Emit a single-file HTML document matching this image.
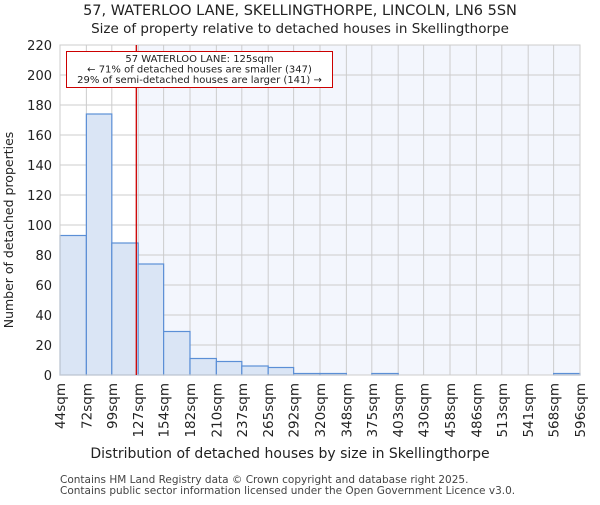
<!DOCTYPE html>
<html><head><meta charset="utf-8"><style>body{margin:0;background:#fff}svg{font-family:"DejaVu Sans","Liberation Sans",sans-serif}</style></head>
<body>
<svg id="chart" width="600" height="500" xmlns="http://www.w3.org/2000/svg">
<text x="300" y="15" text-anchor="middle" font-size="14.5" fill="#222">57, WATERLOO LANE, SKELLINGTHORPE, LINCOLN, LN6 5SN</text>
<text x="300" y="33" text-anchor="middle" font-size="13.5" fill="#222">Size of property relative to detached houses in Skellingthorpe</text>
<g id="plot"></g>
<text x="290" y="458" text-anchor="middle" font-size="14" fill="#222">Distribution of detached houses by size in Skellingthorpe</text>
<text transform="translate(13,230) rotate(-90)" text-anchor="middle" font-size="12.5" fill="#222">Number of detached properties</text>
<text x="60" y="483" font-size="10.5" fill="#444">Contains HM Land Registry data © Crown copyright and database right 2025.</text>
<text x="60" y="494" font-size="10.5" fill="#444">Contains public sector information licensed under the Open Government Licence v3.0.</text>
</svg>
<script>
const binEdges=[44,72,99,127,154,182,210,237,265,292,320,348,375,403,430,458,486,513,541,568,596];
const counts=[93,174,88,74,29,11,9,6,5,1,1,0,1,0,0,0,0,0,0,1];
const yTicks=[0,20,40,60,80,100,120,140,160,180,200,220];
const propertySize=125;
const NS="http://www.w3.org/2000/svg";
const L=60,R=580,T=45,B=375,xmin=44,xmax=596,ymax=220;
const xs=v=>L+(v-xmin)/(xmax-xmin)*(R-L);
const ys=v=>B-v/ymax*(B-T);
const g=document.getElementById('plot');
function mk(t,a,p){const e=document.createElementNS(NS,t);for(const k in a)e.setAttribute(k,a[k]);(p||g).appendChild(e);return e;}
const px=xs(propertySize);
let bg=mk('rect',{x:L,y:T,width:R-L,height:B-T,fill:'#ffffff'});


let bg2=mk('rect',{x:px,y:T,width:R-px,height:B-T,fill:'#f3f6fd'});


yTicks.forEach(v=>{
 let l=mk('line',{x1:L,x2:R,y1:ys(v),y2:ys(v),stroke:'#cccccc','stroke-width':1});
 
 
 let t=mk('text',{x:L-8,y:ys(v)+5,'text-anchor':'end','font-size':13,fill:'#222'});
 t.textContent=v;
 
 
});
binEdges.forEach(v=>{
 let l=mk('line',{x1:xs(v),x2:xs(v),y1:T,y2:B,stroke:'#cccccc','stroke-width':1});
 
 
 let t=mk('text',{transform:`translate(${xs(v)+5},${B+8}) rotate(-90)`,'text-anchor':'end','font-size':13.5,fill:'#222'});
 t.textContent=v+'sqm';
 
 
});
counts.forEach((c,i)=>{
 if(c<=0)return;
 let r=mk('rect',{x:xs(binEdges[i]),y:ys(c),width:xs(binEdges[i+1])-xs(binEdges[i]),height:B-ys(c),fill:'#dae5f5',stroke:'#5b8fd6','stroke-width':1.2});
 
 
});
let ax=mk('rect',{x:L,y:T,width:R-L,height:B-T,fill:'none',stroke:'#cccccc','stroke-width':1});


let ml=mk('line',{x1:px,x2:px,y1:T,y2:B,stroke:'#cc0000','stroke-width':1.3});


let box=mk('rect',{x:66.5,y:51.5,width:266,height:36,fill:'#fff',stroke:'#cc0000','stroke-width':1});


["57 WATERLOO LANE: 125sqm","← 71% of detached houses are smaller (347)","29% of semi-detached houses are larger (141) →"].forEach((s,i)=>{
 let t=mk('text',{x:199.5,y:62+i*10.5,'text-anchor':'middle','font-size':10,fill:'#222'});
 t.textContent=s;
 
 
});
</script>
</body></html>
